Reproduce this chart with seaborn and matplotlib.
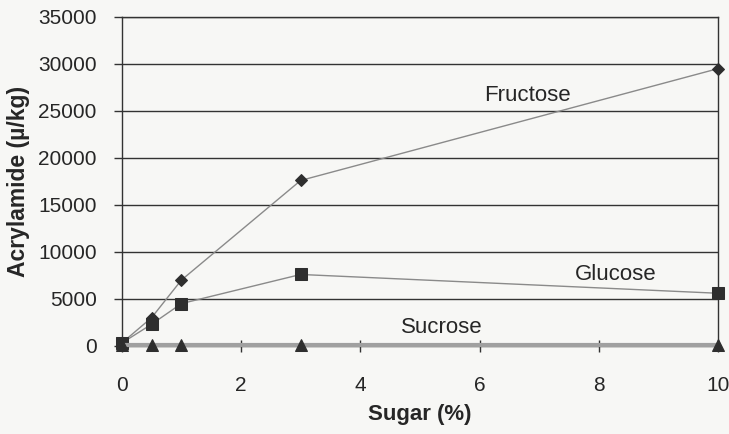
import numpy as np
import pandas as pd
import matplotlib
matplotlib.use('Agg')
import matplotlib.pyplot as plt
import seaborn as sns

sugar = [0, 0.5, 1, 3, 10]
fructose = [300, 3000, 7000, 17600, 29500]
glucose = [300, 2300, 4500, 7600, 5600]
sucrose = [100, 100, 100, 100, 100]
series_names = ['Fructose', 'Glucose', 'Sucrose']
x_ticks = [0, 2, 4, 6, 8, 10]
y_ticks = [0, 5000, 10000, 15000, 20000, 25000, 30000, 35000]

def build_frame():
    rows = []
    for name, vals in zip(series_names, [fructose, glucose, sucrose]):
        for x, v in zip(sugar, vals):
            rows.append({'sugar': x, 'acrylamide': v, 'series': name})
    return pd.DataFrame(rows)

df = build_frame()

sns.set_style('white')
plt.rcParams['font.family'] = ['Liberation Sans', 'DejaVu Sans']

fig = plt.figure(figsize=(7.29, 4.34), dpi=100, facecolor='#f7f7f5')
ax = fig.add_axes([0.167, 0.203, 0.818, 0.758])
ax.set_facecolor('#f7f7f5')

# y gridlines first so the data sits on top
for y in y_ticks:
    ax.axhline(y, color='#333333', lw=1.0, zorder=1)

line_styles = {
    'Fructose': dict(marker='D', ms=6, lw=1.0, color='#8a8a8a'),
    'Glucose': dict(marker='s', ms=8, lw=1.0, color='#8a8a8a'),
    'Sucrose': dict(marker='^', ms=8, lw=3.0, color='#a0a0a0'),
}
for name in series_names:
    st = line_styles[name]
    sub = df[df['series'] == name]
    sns.lineplot(data=sub, x='sugar', y='acrylamide', ax=ax, color=st['color'],
                 lw=st['lw'], marker=st['marker'], markersize=st['ms'],
                 markerfacecolor='#2e2e2e', markeredgecolor='#2e2e2e',
                 legend=False, clip_on=False, zorder=3)

ax.set_xlim(0, 10)
ax.set_ylim(0, 35000)
ax.set_xticks(x_ticks)
ax.set_yticks(y_ticks)
ax.tick_params(axis='x', direction='inout', length=9, width=1, color='#333333',
               pad=17, labelsize=15)
ax.tick_params(axis='y', direction='out', length=6, width=1, color='#333333',
               pad=12, labelsize=15)
ax.yaxis.set_tick_params(left=True)
ax.xaxis.set_tick_params(bottom=True)

for side in ['left', 'right', 'top', 'bottom']:
    ax.spines[side].set_visible(True)
    ax.spines[side].set_color('#333333')
    ax.spines[side].set_linewidth(1.0)

ax.set_xlabel('Sugar (%)', fontsize=16, fontweight='bold', labelpad=7)
ax.set_ylabel('Acrylamide (µ/kg)', fontsize=16.5, fontweight='bold', labelpad=6)

ax.text(6.81, 26600, 'Fructose', fontsize=16, ha='center', va='center')
ax.text(8.29, 7550, 'Glucose', fontsize=16, ha='center', va='center')
ax.text(5.37, 1950, 'Sucrose', fontsize=16, ha='center', va='center')

fig.savefig('out.png', dpi=100, facecolor=fig.get_facecolor())
